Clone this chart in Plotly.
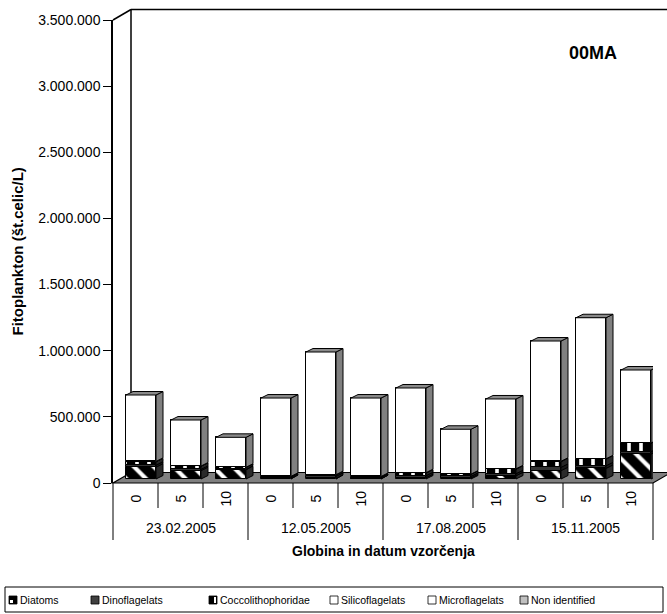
import numpy as np
import plotly.graph_objects as go

# ---------------- data ----------------
depths = ["0", "5", "10", "0", "5", "10", "0", "5", "10", "0", "5", "10"]
dates = ["23.02.2005", "12.05.2005", "17.08.2005", "15.11.2005"]
diatoms = [90000, 63000, 70000, 5000, 5000, 3000, 10000, 8000, 25000, 63000, 80000, 189000]
dinoflagelats = [15000, 10000, 5000, 8000, 15000, 8000, 15000, 12000, 15000, 25000, 20000, 18000]
coccolithophoridae = [25000, 23000, 12000, 5000, 10000, 6000, 20000, 15000, 35000, 43000, 50000, 63000]
silicoflagelats = [3000, 2000, 2000, 2000, 3000, 2000, 3000, 2000, 2000, 3000, 3000, 2000]
microflagelats = [502000, 348000, 226000, 592000, 927000, 593000, 640000, 339000, 528000, 909000, 1066000, 552000]
non_identified = [0, 0, 0, 0, 0, 0, 0, 0, 0, 0, 0, 0]
y_ticks = [0, 500000, 1000000, 1500000, 2000000, 2500000, 3000000, 3500000]
station = "00MA"
y_title = "Fitoplankton (št.celic/L)"
x_title = "Globina in datum vzorčenja"

series = [
    ("Diatoms", diatoms),
    ("Dinoflagelats", dinoflagelats),
    ("Coccolithophoridae", coccolithophoridae),
    ("Silicoflagelats", silicoflagelats),
    ("Microflagelats", microflagelats),
    ("Non identified", non_identified),
]

# ---------------- styling / geometry ----------------
FONT = "Arial, 'Liberation Sans', sans-serif"
W, H = 667, 614
ML, MR, MT, MB = 113, 14, 20, 131
PW, PH = W - ML - MR, H - MT - MB
YMAX = y_ticks[-1]
n = len(depths)
cat_px = PW / n
val_per_px = YMAX / PH

bar_shift = 5.5 / cat_px      # bars sit a little inside the depth
bar_w = 30 / cat_px
base0 = 4 * val_per_px
ddx = 7 / cat_px              # bar depth
ddy = 3.5 * val_per_px
wdx = 18 / PW                 # wall depth (paper units)
wdy = 10.5 / PH

def px2x(px):
    return (px - ML) / PW

def py2y(py):
    return (H - MB - py) / PH

styles = {
    "Diatoms": dict(color="white", pattern=dict(shape="\\", fgcolor="black", bgcolor="white", fgopacity=1,
                                                 size=14, solidity=0.7), side="#2a2a2a"),
    "Dinoflagelats": dict(color="#333333", pattern=None, side="#1a1a1a"),
    "Coccolithophoridae": dict(color="white", pattern=dict(shape="|", fgcolor="black", bgcolor="white", fgopacity=1,
                                                            size=12, solidity=0.7), side="#262626"),
    "Silicoflagelats": dict(color="white", pattern=None, side="#808080"),
    "Microflagelats": dict(color="white", pattern=None, side="#808080"),
    "Non identified": dict(color="#c0c0c0", pattern=None, side="#606060"),
}

xc = np.arange(n) + bar_shift
x0 = xc - bar_w / 2
x1 = xc + bar_w / 2

fig = go.Figure()
cum = np.full(n, base0, dtype=float)
for name, vals in series:
    v = np.array(vals, dtype=float)
    st = styles[name]
    marker = dict(color=st["color"], line=dict(color="black", width=1))
    if st["pattern"]:
        marker["pattern"] = st["pattern"]
    fig.add_trace(go.Bar(x=xc, y=v, base=cum.copy(), width=bar_w, marker=marker,
                         name=name, showlegend=False, hoverinfo="skip"))
    # side faces
    sx, sy = [], []
    for i in range(n):
        if v[i] <= 0:
            continue
        b, t = cum[i], cum[i] + v[i]
        sx += [x1[i], x1[i] + ddx, x1[i] + ddx, x1[i], x1[i], None]
        sy += [b, b + ddy, t + ddy, t, b, None]
    if sx:
        fig.add_trace(go.Scatter(x=sx, y=sy, mode="lines", fill="toself", fillcolor=st["side"],
                                 line=dict(color="black", width=1), showlegend=False, hoverinfo="skip"))
    cum = cum + v

# top faces
tx, ty = [], []
for i in range(n):
    T = cum[i]
    tx += [x0[i], x1[i], x1[i] + ddx, x0[i] + ddx, x0[i], None]
    ty += [T, T, T + ddy, T + ddy, T, None]
fig.add_trace(go.Scatter(x=tx, y=ty, mode="lines", fill="toself", fillcolor="#8a8a8a",
                         line=dict(color="black", width=1), showlegend=False, hoverinfo="skip"))

shapes = []
# floor and walls
shapes.append(dict(type="path", xref="paper", yref="paper", layer="below",
                   path=f"M 0,0 L 1,0 L {1 + wdx},{wdy} L {wdx},{wdy} Z",
                   fillcolor="#808080", line=dict(color="black", width=1.2)))
shapes.append(dict(type="line", xref="paper", yref="paper", layer="below",
                   x0=wdx, y0=wdy, x1=wdx, y1=1 + wdy, line=dict(color="black", width=1.5)))
shapes.append(dict(type="line", xref="paper", yref="paper", layer="below",
                   x0=wdx, y0=1 + wdy, x1=1 + 2 * wdx, y1=1 + wdy, line=dict(color="black", width=1.5)))
shapes.append(dict(type="line", xref="paper", yref="paper", layer="below",
                   x0=0, y0=1, x1=wdx, y1=1 + wdy, line=dict(color="black", width=1.5)))

# category table dividers
for k in range(n + 1):
    xp = k / n
    group_edge = (k % 3 == 0)
    shapes.append(dict(type="line", xref="paper", yref="paper",
                       x0=xp, x1=xp, y0=0, y1=py2y(540 if group_edge else 508),
                       line=dict(color="black", width=1)))

annotations = []
for i, d in enumerate(depths):
    annotations.append(dict(x=(i + 0.5) / n, y=py2y(499), xref="paper", yref="paper", text=d,
                            textangle=-90, showarrow=False, xanchor="center", yanchor="middle",
                            font=dict(family=FONT, size=14, color="black")))
for g, dt in enumerate(dates):
    annotations.append(dict(x=(3 * g + 1.5) / n, y=py2y(528), xref="paper", yref="paper", text=dt,
                            showarrow=False, xanchor="center", yanchor="middle",
                            font=dict(family=FONT, size=14, color="black")))
annotations.append(dict(x=0.5, y=py2y(551), xref="paper", yref="paper", text=f"<b>{x_title}</b>",
                        showarrow=False, xanchor="center", yanchor="middle",
                        font=dict(family=FONT, size=14, color="black")))
annotations.append(dict(x=px2x(17), y=0.5, xref="paper", yref="paper", text=f"<b>{y_title}</b>",
                        textangle=-90, showarrow=False, xanchor="center", yanchor="middle",
                        font=dict(family=FONT, size=15, color="black")))
annotations.append(dict(x=px2x(593), y=py2y(53), xref="paper", yref="paper", text=f"<b>{station}</b>",
                        showarrow=False, xanchor="center", yanchor="middle",
                        font=dict(family=FONT, size=18, color="black")))

# legend (drawn manually to match compact Excel legend)
shapes.append(dict(type="rect", xref="paper", yref="paper", x0=px2x(5), x1=px2x(663),
                   y0=py2y(612), y1=py2y(587), line=dict(color="black", width=1), fillcolor="white"))
leg_sym_x = [13, 95, 213, 334, 432, 524]
leg_fill = ["black", "#404040", "black", "white", "white", "#c0c0c0"]
ly = 600
for (name, _), sxp, fc in zip(series, leg_sym_x, leg_fill):
    shapes.append(dict(type="rect", xref="paper", yref="paper", x0=px2x(sxp - 4), x1=px2x(sxp + 4),
                       y0=py2y(ly + 4), y1=py2y(ly - 4), fillcolor=fc, line=dict(color="black", width=0.8)))
    if name == "Diatoms":
        shapes.append(dict(type="rect", xref="paper", yref="paper", x0=px2x(sxp - 3), x1=px2x(sxp),
                           y0=py2y(ly + 3), y1=py2y(ly), fillcolor="white", line=dict(width=0)))
    if name == "Coccolithophoridae":
        shapes.append(dict(type="rect", xref="paper", yref="paper", x0=px2x(sxp + 1), x1=px2x(sxp + 3),
                           y0=py2y(ly + 3), y1=py2y(ly - 3), fillcolor="white", line=dict(width=0)))
    annotations.append(dict(x=px2x(sxp + 5), y=py2y(ly), xref="paper", yref="paper", text=name,
                            showarrow=False, xanchor="left", yanchor="middle",
                            font=dict(family=FONT, size=10.5, color="black")))

fig.update_layout(
    width=W, height=H,
    margin=dict(l=ML, r=MR, t=MT, b=MB, pad=0),
    paper_bgcolor="white", plot_bgcolor="rgba(0,0,0,0)",
    barmode="overlay", bargap=0,
    separators=",.",
    showlegend=False,
    shapes=shapes, annotations=annotations,
    font=dict(family=FONT, size=14, color="black"),
)
fig.update_xaxes(range=[-0.5, n - 0.5], showticklabels=False, showgrid=False, zeroline=False,
                 showline=False, ticks="", fixedrange=True)
fig.update_yaxes(range=[0, YMAX], tickvals=y_ticks, tickformat=",d", showgrid=False, zeroline=False,
                 showline=True, linecolor="black", linewidth=1.5, ticks="outside", ticklen=8,
                 tickcolor="black", tickwidth=1, tickfont=dict(family=FONT, size=14, color="black"),
                 fixedrange=True)

fig.write_html("out.html")
